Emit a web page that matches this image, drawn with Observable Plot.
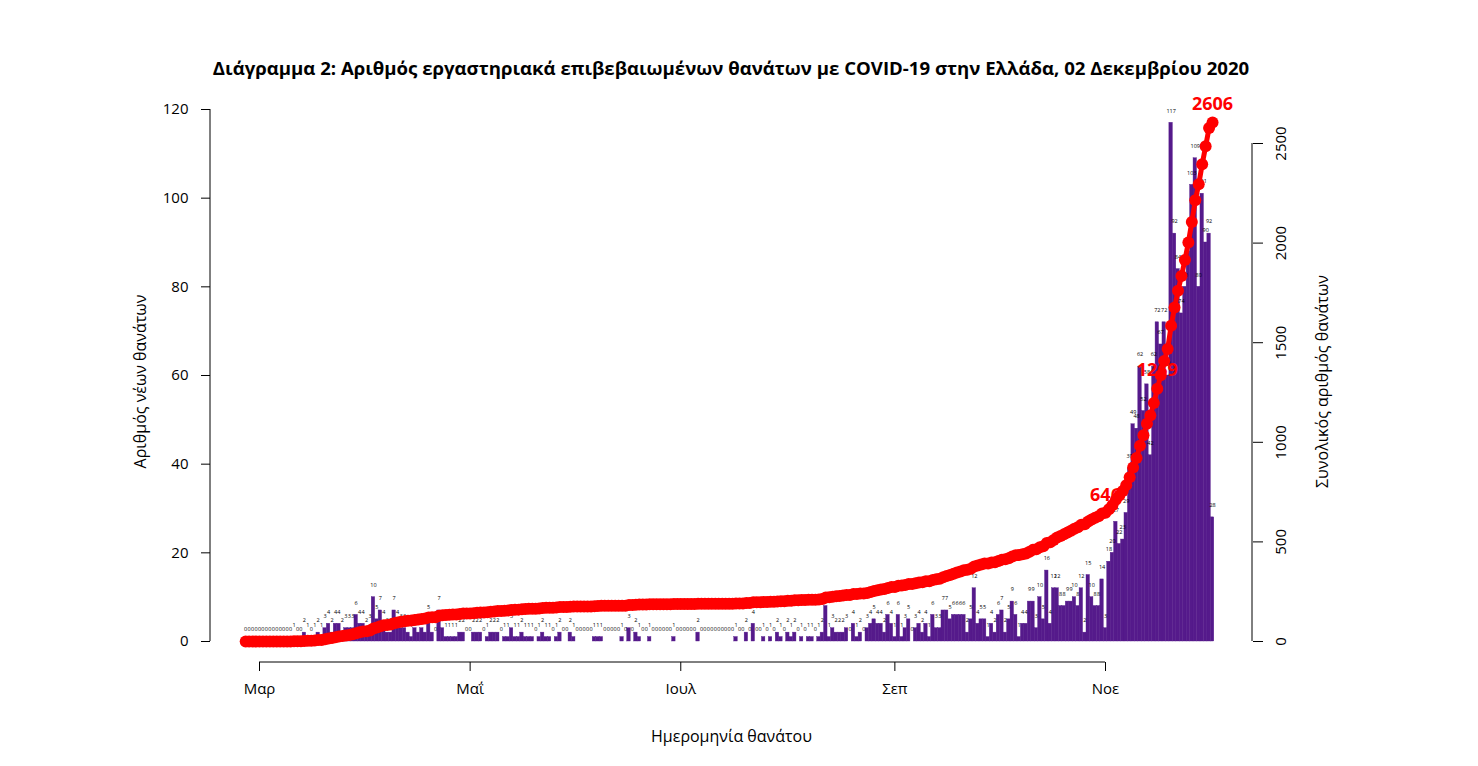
<!DOCTYPE html>
<html><head><meta charset="utf-8">
<script src="https://cdn.jsdelivr.net/npm/d3@7"></script>
<script src="https://cdn.jsdelivr.net/npm/@observablehq/plot@0.6"></script>
<style>
body{margin:0;background:#fff;font-family:"Open Sans",sans-serif;}
#title{width:1478px;height:90px;box-sizing:border-box;padding-top:55px;padding-right:16px;text-align:center;font-weight:bold;font-size:18.6px;line-height:26px;color:#000;}
</style></head><body>
<div id="title">Διάγραμμα 2: Αριθμός εργαστηριακά επιβεβαιωμένων θανάτων με COVID-19 στην Ελλάδα, 02 Δεκεμβρίου 2020</div>
<div id="chart"></div>
<script>
const startDate = "2020-02-26";
const deathsFeb = [0,0,0,0];
const deathsMar = [0,0,0,0,0,0,0,0,0,0, 1,0,0,2,1,0,1,2,1,3, 4,2,4,4,2,3,3,3,6,4, 4];
const deathsApr = [2,3,10,5,7,4,2,2,7,4, 3,3,2,1,3,2,3,2,5,2, 0,7,3,1,1,1,1,2,2,0];
const deathsMay = [0,2,2,2,0,1,2,2,2,0, 1,1,3,1,1,2,1,1,1,0, 1,2,1,1,0,1,2,0,0,2, 1];
const deathsJun = [0,0,0,0,0,1,1,1,0,0, 0,0,0,1,0,3,0,2,1,0, 0,1,0,0,0,0,0,0,1,0];
const deathsJul = [0,0,0,0,0,2,0,0,0,0, 0,0,0,0,0,0,1,0,0,2, 0,4,0,0,1,0,1,0,2,1, 0];
const deathsAug = [2,1,2,0,1,0,1,1,0,1, 2,8,1,3,2,2,2,3,0,4, 1,2,0,3,4,5,4,4,2,6, 4];
const deathsSep = [1,6,1,3,5,0,3,4,2,4, 1,6,3,3,7,7,5,6,6,6, 6,2,5,12,4,5,5,1,4,2];
const deathsOct = [6,7,2,5,9,6,1,4,4,9, 9,3,10,5,16,4,12,12,8,8, 9,9,10,8,12,2,15,10,8,8, 14];
const deathsNov = [3,18,20,27,22,23,29,39,49,48, 62,52,58,42,62,72,67,72,60,117, 92,84,74,80,88,103,109,80,101,90];
const deathsDec = [92,28];

const monthTicks = ["2020-03-01","2020-05-01","2020-07-01","2020-09-01","2020-11-01"];
const monthLabels = ["Μαρ","Μαΐ","Ιουλ","Σεπ","Νοε"];
const leftTicks = [0,20,40,60,80,100,120];
const rightTicks = [0,500,1000,1500,2000,2500];
const annotatedDates = ["2020-11-01","2020-11-16","2020-12-02"];

const titleLeft = "Αριθμός νέων θανάτων";
const titleRight = "Συνολικός αριθμός θανάτων";
const titleBottom = "Ημερομηνία θανάτου";

// ratio between the right (cumulative) axis and the left (daily) axis
const K = 22.256;

const daily = [].concat(deathsFeb, deathsMar, deathsApr, deathsMay, deathsJun, deathsJul, deathsAug, deathsSep, deathsOct, deathsNov, deathsDec);
const start = new Date(startDate + "T00:00:00Z");
const cum = d3.cumsum(daily);
const rows = daily.map((v, i) => {
  const date = d3.utcDay.offset(start, i);
  return {date, x1: d3.utcHour.offset(date, -12), x2: d3.utcHour.offset(date, 12), value: v, cum: cum[i]};
});
const annotRows = rows.filter(r => annotatedDates.includes(r.date.toISOString().slice(0, 10)));
const tickDates = monthTicks.map(s => new Date(s + "T00:00:00Z"));

const W = 1478, H = 676, ML = 210, MR = 226, MT = 10, MB = 104;

const plot = Plot.plot({
  width: W, height: H,
  marginLeft: ML, marginRight: MR, marginTop: MT, marginBottom: MB,
  style: {fontFamily: "Open Sans", fontSize: "15px", color: "#000", background: "#fff", overflow: "visible"},
  x: {type: "utc", domain: [tickDates[0], tickDates[tickDates.length - 1]], range: [259, 1105]},
  y: {domain: [0, 120], range: [551, 19]},
  marks: [
    Plot.rectY(rows, {x1: "x1", x2: "x2", y: "value", fill: "#551A8B", stroke: "#551A8B", strokeWidth: 0.4}),
    Plot.text(rows, {x: "date", y: "value", text: d => String(d.value), dy: -12, fontSize: 5.5, fill: "#000"}),
    Plot.line(rows, {x: "date", y: d => d.cum / K, stroke: "#ff0000", strokeWidth: 5}),
    Plot.dot(rows, {x: "date", y: d => d.cum / K, r: 6, fill: "#ff0000"}),
    Plot.text(annotRows, {x: "date", y: d => d.cum / K, text: d => String(d.cum), dy: -18, fill: "#ff0000", fontWeight: "bold", fontSize: 18}),
    Plot.axisY(leftTicks, {anchor: "left", tickSize: 9, tickPadding: 13, fontSize: 15, label: null}),
    Plot.axisY(rightTicks.map(v => v / K), {anchor: "right", tickSize: 10, tickFormat: () => "", label: null}),
    Plot.text(rightTicks, {y: v => v / K, text: v => String(v), frameAnchor: "right", textAnchor: "middle", dx: 29, rotate: -90, fontSize: 15}),
    Plot.axisX(tickDates, {anchor: "bottom", tickSize: 9, tickPadding: 12, fontSize: 15, label: null,
      tickFormat: d => monthLabels[tickDates.findIndex(t => +t === +d)]}),
    Plot.text([titleLeft], {text: d => d, frameAnchor: "left", textAnchor: "middle", dx: -70, rotate: -90, fontSize: 16}),
    Plot.text([titleRight], {text: d => d, frameAnchor: "right", textAnchor: "middle", dx: 70, rotate: -90, fontSize: 16}),
    Plot.text([titleBottom], {text: d => d, frameAnchor: "bottom", dy: 74, lineAnchor: "middle", fontSize: 16})
  ]
});

// axis lines, drawn from the plot's own scales
const xs = plot.scale("x"), ys = plot.scale("y");
const svg = d3.select(plot);
const g = svg.append("g").attr("stroke", "#000").attr("stroke-width", 1).attr("fill", "none");
g.append("line").attr("x1", ML).attr("x2", ML).attr("y1", ys.apply(0)).attr("y2", ys.apply(leftTicks[leftTicks.length - 1]));
g.append("line").attr("x1", W - MR).attr("x2", W - MR).attr("y1", ys.apply(0)).attr("y2", ys.apply(rightTicks[rightTicks.length - 1] / K));
g.append("line").attr("y1", H - MB).attr("y2", H - MB).attr("x1", xs.apply(tickDates[0])).attr("x2", xs.apply(tickDates[tickDates.length - 1]));

document.getElementById("chart").appendChild(plot);
</script>
</body></html>
